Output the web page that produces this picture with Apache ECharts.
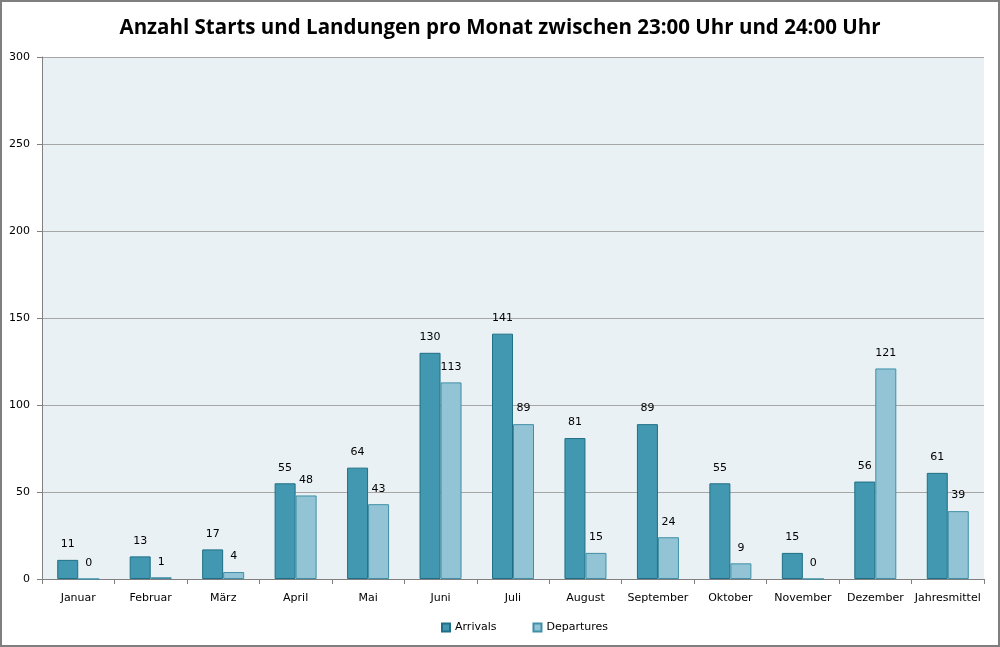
<!DOCTYPE html>
<html><head><meta charset="utf-8">
<script src="https://cdn.jsdelivr.net/npm/echarts@6/dist/echarts.min.js"></script>
<style>html,body{margin:0;padding:0;background:#fff}#c{width:1000px;height:647px;position:relative}#b{position:absolute;left:0;top:0;width:1000px;height:647px;box-sizing:border-box;border:2px solid #7f7f7f;pointer-events:none}</style>
</head><body><div style="position:relative"><div id="c"></div><div id="b"></div></div>
<script>
const title = 'Anzahl Starts und Landungen pro Monat zwischen 23:00 Uhr und 24:00 Uhr';
const categories = ['Januar','Februar','März','April','Mai','Juni','Juli','August','September','Oktober','November','Dezember','Jahresmittel'];
const arrivals = [11,13,17,55,64,130,141,81,89,55,15,56,61];
const departures = [0,1,4,48,43,113,89,15,24,9,0,121,39];
const yTicks = {min:0,max:300,interval:50};
const chart = echarts.init(document.getElementById('c'));
const lbl = {show:true,position:'top',distance:10,color:'#000',fontFamily:'DejaVu Sans',fontSize:11};
chart.setOption({
  animation:false,
  backgroundColor:'#fff',
  title:{text:title,left:'center',top:13,textStyle:{fontFamily:'Open Sans',fontWeight:'bold',fontSize:20.5,color:'#000'}},
  legend:{bottom:9,left:436,icon:'rect',itemWidth:8,itemHeight:8,itemGap:36,textStyle:{fontFamily:'DejaVu Sans',fontSize:11,color:'#000'},data:['Arrivals','Departures']},
  grid:{left:42,right:16,top:57,bottom:68,backgroundColor:'#eaf1f4',show:true,borderWidth:0},
  xAxis:{type:'category',data:categories,axisLine:{lineStyle:{color:'#808080'}},axisTick:{show:true,length:5,lineStyle:{color:'#808080'}},axisLabel:{interval:0,margin:14,fontFamily:'DejaVu Sans',fontSize:11,color:'#000'}},
  yAxis:{type:'value',min:yTicks.min,max:yTicks.max,interval:yTicks.interval,axisLine:{show:true,lineStyle:{color:'#808080'}},axisTick:{show:true,length:5,lineStyle:{color:'#808080'}},splitLine:{lineStyle:{color:'#a6a6a6'}},axisLabel:{margin:12,fontFamily:'DejaVu Sans',fontSize:11,color:'#000'}},
  series:[
    {name:'Arrivals',type:'bar',data:arrivals,barWidth:21,barGap:'0%',itemStyle:{color:'#4298b0',borderColor:'#1f6f86',borderWidth:1},label:lbl},
    {name:'Departures',type:'bar',data:departures,barWidth:21,itemStyle:{color:'#93c4d6',borderColor:'#3f8fa6',borderWidth:1},label:lbl}
  ]
});
</script></body></html>
